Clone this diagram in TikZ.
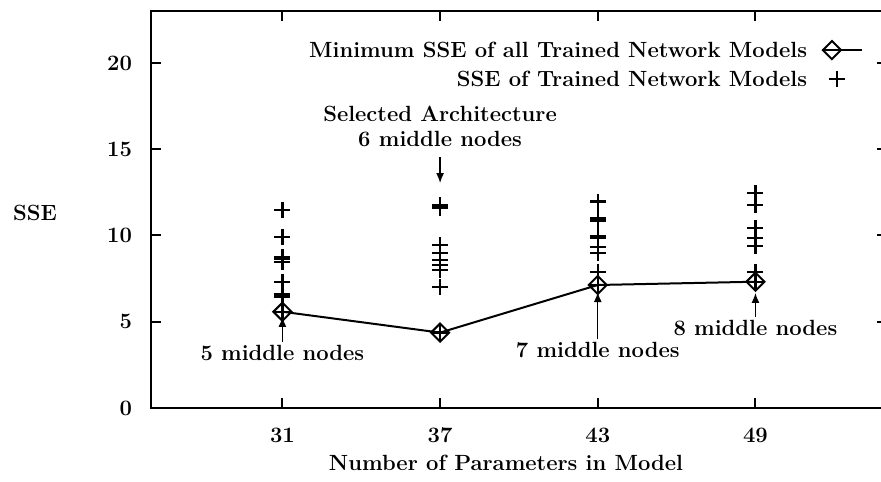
\documentclass[tikz,border=0pt]{standalone}
\usetikzlibrary{arrows.meta,positioning,plotmarks}

\tikzset{
  lbl/.style={font=\fontsize{11}{12.5}\selectfont\bfseries, inner sep=1pt},
  ptr/.style={-{Latex[length=5pt,width=4pt]}, line width=0.7pt},
  pluses/.style={only marks, mark=+, mark size=4pt, mark options={line width=1.2pt}},
  diam/.style={mark=square, mark size=3.2pt, mark options={rotate=45, line width=1pt}},
}

\begin{document}
\begin{tikzpicture}[x=13.14pt,y=8.625pt,line width=1pt]
  \useasboundingbox (20.254,-4.290) rectangle (53.778,23.652);
  % frame and ticks
  \draw[line width=1.2pt] (53.778,23) -- (26,23) -- (26,0) -- (53.778,0);
  \foreach \t in {31,37,43,49} {
    \draw (\t,0) -- (\t,0.58);
    \draw (\t,23) -- (\t,22.42);
    \node[lbl] (xt\t) at (\t,-1.57) {\t};
  }
  \foreach \t in {0,5,...,20} {
    \draw (26,\t) -- (26.38,\t);
    \draw (53.778,\t) -- (53.64,\t);
    \node[lbl,anchor=east] (yt\t) at (25.39,\t) {\t};
  }
  \node[lbl] (ylab) at (21.59,11.3) {SSE};
  \node[lbl] (xlab) at (39.51,-3.19) {Number of Parameters in Model};
  % SSE of every trained network
  \draw plot[pluses] coordinates {
    (31,11.48) (31,9.93) (31,8.77) (31,8.62) (31,8.45) (31,7.32) (31,6.57) (31,6.45) (31,5.58)
    (37,11.75) (37,11.6) (37,9.45) (37,8.97) (37,8.58) (37,8.29) (37,8.0) (37,7.03) (37,4.37)
    (43,11.96) (43,11.0) (43,10.88) (43,9.98) (43,9.88) (43,9.32) (43,9.0) (43,7.9) (43,7.13)
    (49,12.45) (49,11.77) (49,10.42) (49,9.84) (49,9.39) (49,7.9) (49,7.32)};
  % minimum SSE
  \draw plot[diam] coordinates {(31,5.58) (37,4.37) (43,7.13) (49,7.32)};
  % key
  \node[lbl,anchor=east] (key1) at (51.08,20.75) {Minimum SSE of all Trained Network Models};
  \node[lbl,anchor=east] (key2) at (51.08,19.07) {SSE of Trained Network Models};
  \draw ([xshift=6pt]key1.east) -- ++(20pt,0);
  \draw plot[diam] coordinates {(51.91,20.75)};
  \draw plot[pluses] coordinates {(52.10,19.07)};
  % labels for the architectures
  \node[lbl,align=center] (sel) at (37,16.35) {Selected Architecture\\6 middle nodes};
  \coordinate (tip37) at (37,13.04);
  \draw[ptr] ([yshift=-4pt]sel.south) -- (tip37);
  \node[lbl] (m5) at (31,3.19) {5 middle nodes};
  \coordinate (tip31) at (31,5.28);
  \draw[ptr] (m5.north) -- (tip31);
  \node[lbl] (m7) at (43,3.36) {7 middle nodes};
  \coordinate (tip43) at (43,6.72);
  \draw[ptr] (m7.north) -- (tip43);
  \node[lbl] (m8) at (49,4.64) {8 middle nodes};
  \coordinate (tip49) at (49,6.67);
  \draw[ptr] (m8.north) -- (tip49);
\end{tikzpicture}
\end{document}
